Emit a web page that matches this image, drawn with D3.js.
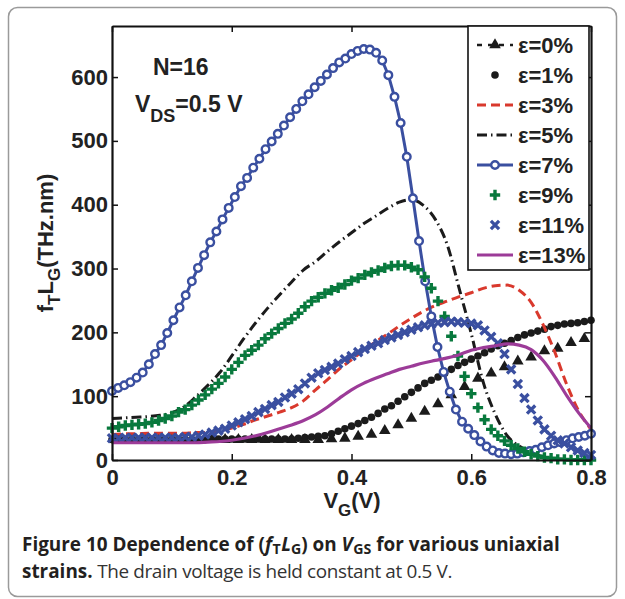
<!doctype html>
<html lang="en">
<head>
    <meta charset="UTF-8">
    <title>fT LG vs VG</title>
    <style>
        body { margin: 0; background: #fff; }
        svg text { font-family: "Liberation Sans", Arial, sans-serif; }
        .cap text { font-family: "Open Sans", sans-serif; }
    </style>
</head>
<body>
    <svg id="chart" width="625" height="599"></svg>
    <script src="https://cdn.jsdelivr.net/npm/d3@7"></script>
    <script>
        // gate voltage sweeps (V)
        const vgFine = d3.range(73).map(i => i / 90)            // 0 .. 0.8
        const vgOdd = d3.range(36).map(i => (2 * i + 1) / 90)   // triangles
        const vgCirc = d3.range(79).map(i => i * 0.8 / 78)      // circles
        const vgLine = d3.range(41).map(i => i * 0.02)          // plain lines

        // fT*LG (THz.nm)
        const eps0 = [32,32,32,32,32,32,32,32,32,32,32,32,32,32,32,32,33,34,37,40,46,55,65,76,88,102,115,128,136,146,155,161,171,175,184,190]
        const eps1 = [32,32,32,32,32,32,32,32,32,32,32,32,32,32,32,33,33,33,33,33,33,33,33,33,33,33,33,33,34,35,36,37,38,41,45,49,53,57,62,67,73,80,85,92,99,106,113,120,125,130,136,142,148,153,158,163,168,174,179,183,187,192,196,199,202,205,209,211,213,214,215,217,219]
        const eps3 = [40,41,41,42,42,42,42,43,43,46,50,56,63,69,75,82,93,110,126,143,157,172,185,197,210,222,233,242,249,256,262,269,273,274,266,247,212,168,117,76,48]
        const eps5 = [65,66,67,68,70,74,83,99,117,137,163,190,215,238,259,279,298,311,327,342,356,370,382,394,404,408,399,377,337,268,198,122,72,38,22,12,5,2,1,0,0]
        const eps7 = [108,113,117,122,129,137,150,166,180,199,219,239,258,280,301,321,341,358,377,395,412,429,442,458,472,487,499,511,524,537,550,562,573,584,594,604,614,623,629,636,641,644,643,638,626,603,569,528,475,410,343,280,225,177,138,107,79,60,49,39,29,21,15,11,10,9,10,12,14,16,20,23,26,28,31,34,36,38,41]
        const eps9 = [50,52,54,55,56,57,59,62,65,69,75,79,86,94,102,111,120,130,142,153,164,172,180,190,198,206,214,221,230,240,249,255,261,266,270,275,281,285,290,294,297,301,304,305,305,302,298,287,269,249,225,194,163,131,104,82,63,48,38,30,23,18,13,9,6,4,3,1,1,0,0,0,0]
        const eps11 = [34,34,35,35,35,35,35,35,35,35,35,36,36,38,40,43,46,49,54,59,64,69,75,80,86,91,98,104,111,120,129,136,141,146,151,158,163,169,174,179,183,188,192,196,200,204,208,211,213,215,216,217,216,215,214,211,203,193,183,166,142,119,97,79,62,48,38,31,26,20,15,11,8]
        const eps13 = [27,27,27,27,27,27,27,27,28,29,31,34,38,43,49,55,62,71,83,97,110,120,128,135,142,147,152,156,160,165,172,176,179,182,180,173,156,130,100,73,50]

        const xTicks = [0, 0.2, 0.4, 0.6, 0.8]
        const yTicks = [0, 100, 200, 300, 400, 500, 600]

        const blue = '#3a4fa0', green = '#08793d', red = '#d9392d', purple = '#9c3b98', black = '#1b1b1b'

        const series = [
            {name: 'ε=0%', x: vgOdd, y: eps0, color: black, marker: 'tri', legendDash: '5,6'},
            {name: 'ε=1%', x: vgFine, y: eps1, color: black, marker: 'dot'},
            {name: 'ε=3%', x: vgLine, y: eps3, color: red, line: true, dash: '9,5', width: 3},
            {name: 'ε=5%', x: vgLine, y: eps5, color: black, line: true, dash: '10,4,1.5,4', width: 3},
            {name: 'ε=7%', x: vgCirc, y: eps7, color: blue, line: true, width: 3, marker: 'circle'},
            {name: 'ε=9%', x: vgFine, y: eps9, color: green, marker: 'plus'},
            {name: 'ε=11%', x: vgFine, y: eps11, color: blue, marker: 'cross'},
            {name: 'ε=13%', x: vgLine, y: eps13, color: purple, line: true, width: 3.2}
        ]

        const svg = d3.select('#chart')

        // outer frame of the figure
        svg.append('rect')
            .attr('x', 8.5).attr('y', 7.5)
            .attr('width', 608).attr('height', 589)
            .attr('rx', 9)
            .attr('fill', 'none')
            .attr('stroke', '#9a9a9a')
            .attr('stroke-width', 1.5)

        const x = d3.scaleLinear().domain([0, 0.8]).range([112, 591])
        const y = d3.scaleLinear().domain([0, 680]).range([460, 26])

        const plot = svg.append('g')

        function drawMarker(sel, type, color) {
            if (type === 'circle') {
                sel.append('circle').attr('r', 3.8)
                    .attr('fill', '#fff').attr('stroke', color).attr('stroke-width', 2.4)
            } else if (type === 'dot') {
                sel.append('circle').attr('r', 3.8).attr('fill', color)
            } else if (type === 'tri') {
                sel.append('path').attr('d', d3.symbol(d3.symbolTriangle, 58)())
                    .attr('fill', color)
            } else if (type === 'plus') {
                sel.append('path').attr('d', 'M-5.2,0H5.2M0,-5.2V5.2')
                    .attr('stroke', color).attr('stroke-width', 3.4).attr('fill', 'none')
            } else if (type === 'cross') {
                sel.append('path').attr('d', 'M-4.1,-4.1L4.1,4.1M-4.1,4.1L4.1,-4.1')
                    .attr('stroke', color).attr('stroke-width', 3.3).attr('fill', 'none')
            }
        }

        series.forEach(s => {
            const pts = s.y.map((v, i) => [s.x[i], v])
            if (s.line) {
                const line = d3.line()
                    .x(d => x(d[0])).y(d => y(d[1]))
                    .curve(s.marker ? d3.curveLinear : d3.curveMonotoneX)
                plot.append('path')
                    .datum(pts)
                    .attr('d', line)
                    .attr('fill', 'none')
                    .attr('stroke', s.color)
                    .attr('stroke-width', s.width)
                    .attr('stroke-dasharray', s.dash || null)
            }
            if (s.marker) {
                const g = plot.append('g')
                g.selectAll('g')
                    .data(pts)
                    .join('g')
                    .attr('transform', d => `translate(${x(d[0])},${y(d[1])})`)
                    .each(function () { drawMarker(d3.select(this), s.marker, s.color) })
            }
        })

        // axes (box with inward ticks)
        const fmt = d3.format('')
        const axStyle = g => {
            g.select('.domain').attr('stroke', '#111').attr('stroke-width', 2.2)
            g.selectAll('.tick line').attr('stroke', '#111').attr('stroke-width', 1.5)
            g.selectAll('text')
                .attr('fill', '#222')
                .attr('font-size', 22)
                .attr('font-weight', 'bold')
                .attr('font-family', '"Liberation Sans", Arial, sans-serif')
        }
        svg.append('g').attr('transform', 'translate(0,460)')
            .call(d3.axisBottom(x).tickValues(xTicks).tickFormat(fmt).tickSizeInner(-6).tickSizeOuter(0).tickPadding(9))
            .call(axStyle)
        svg.append('g').attr('transform', 'translate(0,26)')
            .call(d3.axisTop(x).tickValues(xTicks).tickFormat('').tickSizeInner(-6).tickSizeOuter(0))
            .call(axStyle)
        svg.append('g').attr('transform', 'translate(112,0)')
            .call(d3.axisLeft(y).tickValues(yTicks).tickFormat(fmt).tickSizeInner(-6).tickSizeOuter(0).tickPadding(4))
            .call(axStyle)
        svg.append('g').attr('transform', 'translate(591,0)')
            .call(d3.axisRight(y).tickValues(yTicks).tickFormat('').tickSizeInner(-6).tickSizeOuter(0))
            .call(axStyle)

        // axis titles
        const bold = sel => sel.attr('font-weight', 'bold').attr('fill', '#222')
        const yl = svg.append('text')
            .attr('transform', 'translate(53,243) rotate(-90)')
            .attr('text-anchor', 'middle')
            .attr('font-size', 22)
            .call(bold)
        yl.append('tspan').text('f')
        yl.append('tspan').attr('dy', 7).attr('font-size', 17).text('T')
        yl.append('tspan').attr('dy', -7).text('L')
        yl.append('tspan').attr('dy', 7).attr('font-size', 17).text('G')
        yl.append('tspan').attr('dy', -7).text('(THz.nm)')

        const xl = svg.append('text')
            .attr('x', 352).attr('y', 508)
            .attr('text-anchor', 'middle')
            .attr('font-size', 22)
            .call(bold)
        xl.append('tspan').text('V')
        xl.append('tspan').attr('dy', 8).attr('font-size', 17).text('G')
        xl.append('tspan').attr('dy', -8).text('(V)')

        // annotation
        svg.append('text').attr('x', 153).attr('y', 75).attr('font-size', 23).call(bold).text('N=16')
        const vds = svg.append('text').attr('x', 135).attr('y', 112).attr('font-size', 23).call(bold)
        vds.append('tspan').text('V')
        vds.append('tspan').attr('dy', 10).attr('font-size', 18).text('DS')
        vds.append('tspan').attr('dy', -10).text('=0.5 V')

        // legend
        const legend = svg.append('g')
        legend.append('rect')
            .attr('x', 468).attr('y', 26)
            .attr('width', 121).attr('height', 244)
            .attr('fill', '#fff').attr('stroke', '#111').attr('stroke-width', 1.6)
        series.forEach((s, i) => {
            const cy = 45 + i * 30
            const row = legend.append('g')
            if (s.line || s.legendDash) {
                row.append('line')
                    .attr('x1', 477).attr('x2', 513).attr('y1', cy).attr('y2', cy)
                    .attr('stroke', s.color)
                    .attr('stroke-width', s.width || 2.6)
                    .attr('stroke-dasharray', s.legendDash || s.dash || null)
            }
            if (s.marker) {
                const m = row.append('g').attr('transform', `translate(495,${cy})`)
                drawMarker(m, s.marker, s.color)
            }
            row.append('text')
                .attr('x', 518).attr('y', cy + 8)
                .attr('font-size', 22)
                .call(bold)
                .text(s.name)
        })

        // caption
        const cap = svg.append('g').attr('class', 'cap')
        const l1 = cap.append('text').attr('x', 22).attr('y', 551)
            .attr('font-weight', 'bold').attr('fill', '#231f20').attr('font-size', 17)
        l1.append('tspan').text('Figure 10 Dependence of (')
        l1.append('tspan').attr('font-style', 'italic').text('f')
        l1.append('tspan').attr('dy', 3).attr('dx', 0.5).attr('font-size', '0.75em').text('T')
        l1.append('tspan').attr('dy', -3).attr('dx', 0.5).attr('font-style', 'italic').text('L')
        l1.append('tspan').attr('dy', 3).attr('font-size', '0.75em').text('G')
        l1.append('tspan').attr('dy', -3).text(') on ')
        l1.append('tspan').attr('font-style', 'italic').text('V')
        l1.append('tspan').attr('dy', 3).attr('dx', 0.5).attr('font-size', '0.75em').text('GS')
        l1.append('tspan').attr('dy', -3).text(' for various uniaxial')

        const l2 = cap.append('text').attr('x', 22).attr('y', 578)
            .attr('fill', '#231f20').attr('font-size', 17)
        l2.append('tspan').attr('font-weight', 'bold').text('strains.')
        const l2b = l2.append('tspan').attr('fill', '#333').text(' The drain voltage is held constant at 0.5 V.')

        // fit caption size to the printed widths
        const w1 = l1.node().getBBox().width
        const fs = 17 * 538 / w1
        l1.attr('font-size', fs)
        l2.attr('font-size', fs)
        const w2 = l2.node().getBBox().width
        const n2 = l2b.text().length
        l2b.attr('letter-spacing', (430 - w2) / n2)
    </script>
</body>
</html>
